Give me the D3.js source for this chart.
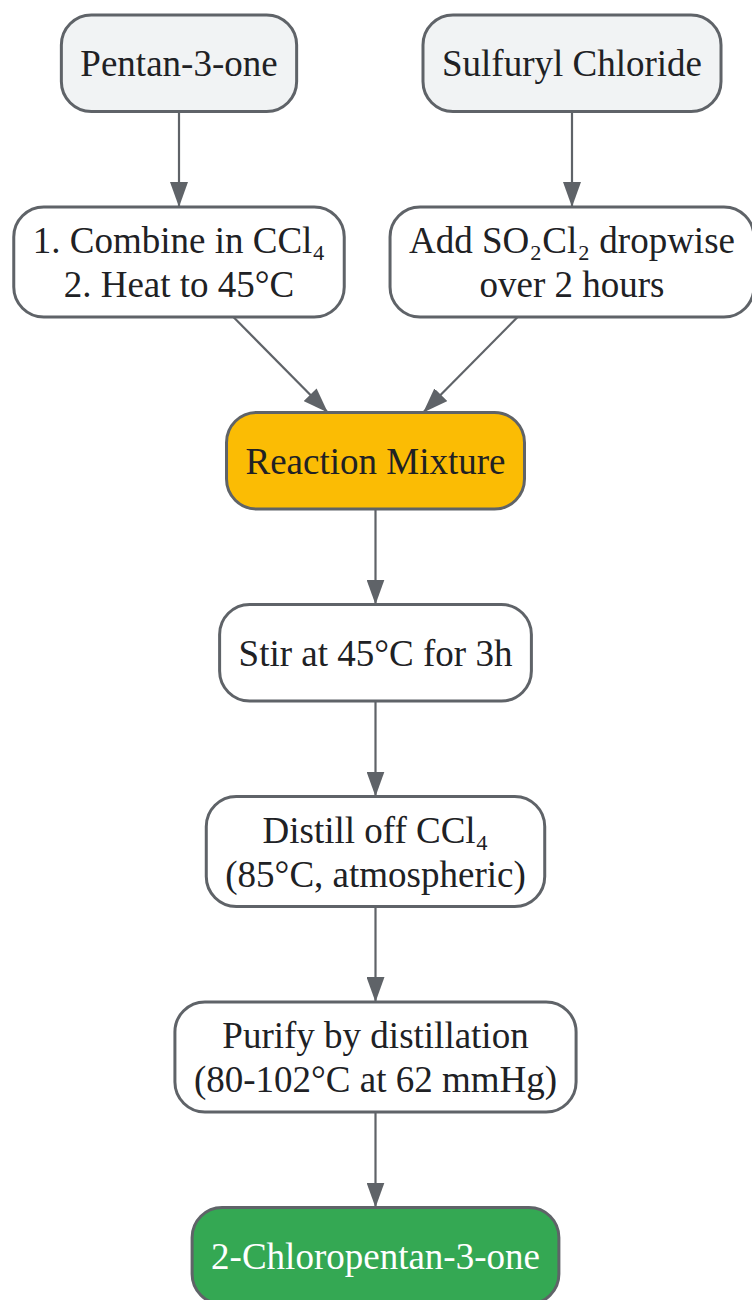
<!DOCTYPE html>
<html>
<head>
<meta charset="utf-8">
<script src="https://cdn.jsdelivr.net/npm/d3@7"></script>
<style>
  html, body { margin: 0; padding: 0; background: #fff; }
  svg { display: block; }
  .node-label { font-family: "Liberation Serif", "Times New Roman", serif; font-size: 37px; }
  .edge { fill: none; stroke: #5f6368; stroke-width: 2.2px; }
</style>
</head>
<body>
<div id="chart"></div>
<script>
// Synthesis flowchart: 2-chloropentan-3-one
(function() {
  const nodeLabels = [
    ["Pentan-3-one"],
    ["Sulfuryl Chloride"],
    ["1. Combine in CCl₄", "2. Heat to 45°C"],
    ["Add SO₂Cl₂ dropwise", "over 2 hours"],
    ["Reaction Mixture"],
    ["Stir at 45°C for 3h"],
    ["Distill off CCl₄", "(85°C, atmospheric)"],
    ["Purify by distillation", "(80-102°C at 62 mmHg)"],
    ["2-Chloropentan-3-one"]
  ];
  const nodeRow = [0, 0, 1, 1, 2, 3, 4, 5, 6];
  const nodeCol = [0, 1, 0, 1, 0.5, 0.5, 0.5, 0.5, 0.5];
  const nodeKind = ["input", "input", "step", "step", "mix", "step", "step", "step", "product"];
  const edgeFrom = [0, 1, 2, 3, 4, 5, 6, 7];
  const edgeTo   = [2, 3, 4, 4, 5, 6, 7, 8];

  const width = 752, height = 1300;
  const fill = { input: "#f1f3f4", step: "#ffffff", mix: "#fbbc04", product: "#34a853" };
  const textColor = { input: "#202124", step: "#202124", mix: "#202124", product: "#ffffff" };

  const svg = d3.select("#chart").append("svg")
    .attr("width", width)
    .attr("height", height);

  svg.append("defs").append("marker")
    .attr("id", "arrow")
    .attr("viewBox", "0 0 25 18")
    .attr("refX", 25)
    .attr("refY", 9)
    .attr("markerWidth", 25)
    .attr("markerHeight", 18)
    .attr("markerUnits", "userSpaceOnUse")
    .attr("orient", "auto")
    .append("path")
    .attr("d", "M0,0 L25,9 L0,18 Z")
    .attr("fill", "#5f6368");

  const x = d3.scaleLinear().domain([0, 1]).range([179, 572]);

  // row heights depend on number of lines; stack rows with a fixed gap
  const nRows = d3.max(nodeRow) + 1;
  const rowH = d3.range(nRows).map(r =>
    d3.max(nodeLabels.filter((l, i) => nodeRow[i] === r), l => l.length === 1 ? 96.5 : 110));
  const gap = 95.5;
  const rowTop = [];
  let acc = 15;
  rowH.forEach((h, r) => { rowTop[r] = acc; acc += h + gap; });

  // measure text widths
  const measure = svg.append("text").attr("class", "node-label").attr("visibility", "hidden");
  const textW = nodeLabels.map(lines => d3.max(lines, t => {
    measure.text(t);
    return measure.node().getComputedTextLength();
  }));
  measure.remove();

  const pad = 19;
  const nodes = nodeLabels.map((lines, i) => {
    const h = rowH[nodeRow[i]];
    const top = rowTop[nodeRow[i]];
    return {
      lines, kind: nodeKind[i],
      cx: x(nodeCol[i]),
      cy: top + h / 2,
      w: textW[i] + pad * 2,
      h
    };
  });

  // edges: centre-to-centre line clipped at source bottom and target top
  const edgeG = svg.append("g");
  edgeFrom.forEach((s, k) => {
    const a = nodes[s], b = nodes[edgeTo[k]];
    const dx = b.cx - a.cx, dy = b.cy - a.cy;
    const y1 = a.cy + a.h / 2, y2 = b.cy - b.h / 2;
    const x1 = a.cx + dx * (a.h / 2) / dy;
    const x2 = b.cx - dx * (b.h / 2) / dy;
    edgeG.append("line")
      .attr("class", "edge")
      .attr("x1", x1).attr("y1", y1)
      .attr("x2", x2).attr("y2", y2)
      .attr("marker-end", "url(#arrow)");
  });

  const nodeG = svg.append("g").selectAll("g")
    .data(nodes)
    .enter()
    .append("g")
    .attr("transform", d => `translate(${d.cx},${d.cy})`);

  nodeG.append("rect")
    .attr("x", d => -d.w / 2)
    .attr("y", d => -d.h / 2)
    .attr("width", d => d.w)
    .attr("height", d => d.h)
    .attr("rx", 30)
    .attr("ry", 30)
    .attr("fill", d => fill[d.kind])
    .attr("stroke", "#5f6368")
    .attr("stroke-width", 3);

  nodeG.each(function(d) {
    const g = d3.select(this);
    const lineH = 44;
    const first = 13 - (d.lines.length - 1) * lineH / 2;
    d.lines.forEach((t, j) => {
      g.append("text")
        .attr("class", "node-label")
        .attr("text-anchor", "middle")
        .attr("x", 0)
        .attr("y", first + j * lineH)
        .attr("fill", textColor[d.kind])
        .text(t);
    });
  });
})();
</script>
</body>
</html>
